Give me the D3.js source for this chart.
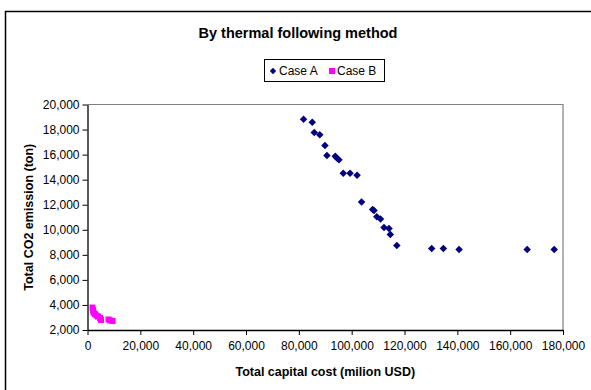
<!DOCTYPE html>
<html>
<head>
<meta charset="utf-8">
<script src="https://cdn.jsdelivr.net/npm/d3@7"></script>
<style>
  body { margin: 0; background: #fff; }
  svg { display: block; font-family: "Liberation Sans", Arial, sans-serif; }
</style>
</head>
<body>
<div id="chart"></div>
<script>
// Case A points (capital cost, CO2 emission)
const caseACost = [81780, 85075, 85832, 87916, 89887, 90645, 93790, 94434, 95192, 96822,
  99399, 102051, 103756, 107925, 108456, 109517, 110919, 112245, 114140, 114632,
  117096, 130283, 134717, 140666, 166435, 176667];
const caseAEmission = [18830, 18590, 17770, 17590, 16720, 15920, 15860, 15720, 15580, 14505,
  14505, 14346, 12220, 11620, 11540, 11040, 10865, 10180, 10100, 9620,
  8750, 8510, 8510, 8430, 8430, 8430];

// Case B points
const caseBCost = [1900, 2080, 2270, 2840, 3410, 3980, 4740, 5120, 7960, 8530, 9470];
const caseBEmission = [3790, 3590, 3390, 3270, 3155, 3075, 2955, 2800, 2840, 2760, 2720];

const xTicks = [0, 20000, 40000, 60000, 80000, 100000, 120000, 140000, 160000, 180000];
const yTicks = [2000, 4000, 6000, 8000, 10000, 12000, 14000, 16000, 18000, 20000];
const seriesNames = ["Case A", "Case B"];

const W = 591, H = 390;
const plot = { left: 87.5, right: 563, top: 104.5, bottom: 330 };

const svg = d3.select("#chart").append("svg")
  .attr("width", W)
  .attr("height", H);

// outer chart frame
svg.append("rect")
  .attr("x", 5.5).attr("y", 11.5)
  .attr("width", 640).attr("height", 440)
  .attr("fill", "#fff")
  .attr("stroke", "#000")
  .attr("stroke-width", 1.5);

const x = d3.scaleLinear().domain([0, 180000]).range([plot.left, plot.right]);
const y = d3.scaleLinear().domain([2000, 20000]).range([plot.bottom, plot.top]);
const fmt = d3.format(",");

// plot area border (top/right grey)
svg.append("path")
  .attr("d", `M${plot.left},${plot.top}H${plot.right}V${plot.bottom}`)
  .attr("fill", "none")
  .attr("stroke", "#808080")
  .attr("stroke-width", 1.2);

// axes
const xAxis = svg.append("g")
  .attr("transform", `translate(0,${plot.bottom})`)
  .call(d3.axisBottom(x).tickValues(xTicks).tickFormat(fmt).tickSizeInner(5).tickSizeOuter(0));
const yAxis = svg.append("g")
  .attr("transform", `translate(${plot.left},0)`)
  .call(d3.axisLeft(y).tickValues(yTicks).tickFormat(fmt).tickSizeInner(5).tickSizeOuter(0));

[xAxis, yAxis].forEach(g => {
  g.select(".domain").attr("stroke", "#000").attr("stroke-width", 1.3);
  g.selectAll(".tick line").attr("stroke", "#000");
  g.selectAll("text")
    .attr("fill", "#000")
    .style("font-size", "12px")
    .style("font-family", "'Liberation Sans', Arial, sans-serif");
});
xAxis.selectAll("text").attr("y", 11);
yAxis.selectAll("text").attr("x", -8);

// Case A: navy diamonds (square turned 45 degrees)
const diamond = d3.symbol().type(d3.symbolSquare).size(28);
svg.append("g").selectAll("path")
  .data(caseACost.map((c, i) => [c, caseAEmission[i]]))
  .join("path")
  .attr("d", diamond)
  .attr("transform", d => `translate(${x(d[0])},${y(d[1])}) rotate(45)`)
  .attr("fill", "#000080");

// Case B: magenta squares
svg.append("g").selectAll("rect")
  .data(caseBCost.map((c, i) => [c, caseBEmission[i]]))
  .join("rect")
  .attr("x", d => x(d[0]) - 3)
  .attr("y", d => y(d[1]) - 3)
  .attr("width", 6).attr("height", 6)
  .attr("fill", "#ff00ff");

// title
svg.append("text")
  .attr("x", 298).attr("y", 38)
  .attr("text-anchor", "middle")
  .style("font-size", "14.5px")
  .style("font-weight", "bold")
  .text("By thermal following method");

// axis titles
svg.append("text")
  .attr("x", (plot.left + plot.right) / 2).attr("y", 376)
  .attr("text-anchor", "middle")
  .style("font-size", "12.5px")
  .style("font-weight", "bold")
  .text("Total capital cost (milion USD)");

svg.append("text")
  .attr("transform", `translate(33,${(plot.top + plot.bottom) / 2}) rotate(-90)`)
  .attr("text-anchor", "middle")
  .style("font-size", "12.5px")
  .style("font-weight", "bold")
  .text("Total CO2 emission (ton)");

// legend
const legend = svg.append("g").attr("transform", "translate(264,59)");
legend.append("rect")
  .attr("x", 0.5).attr("y", 0.5)
  .attr("width", 120).attr("height", 22)
  .attr("fill", "#fff")
  .attr("stroke", "#000");

legend.append("path")
  .attr("d", d3.symbol().type(d3.symbolSquare).size(20))
  .attr("transform", "translate(9,12) rotate(45)")
  .attr("fill", "#000080");
legend.append("text")
  .attr("x", 15).attr("y", 16)
  .style("font-size", "12px")
  .text(seriesNames[0]);

legend.append("rect")
  .attr("x", 65).attr("y", 9).attr("width", 6).attr("height", 6)
  .attr("fill", "#ff00ff");
legend.append("text")
  .attr("x", 73).attr("y", 16)
  .style("font-size", "12px")
  .text(seriesNames[1]);
</script>
</body>
</html>
